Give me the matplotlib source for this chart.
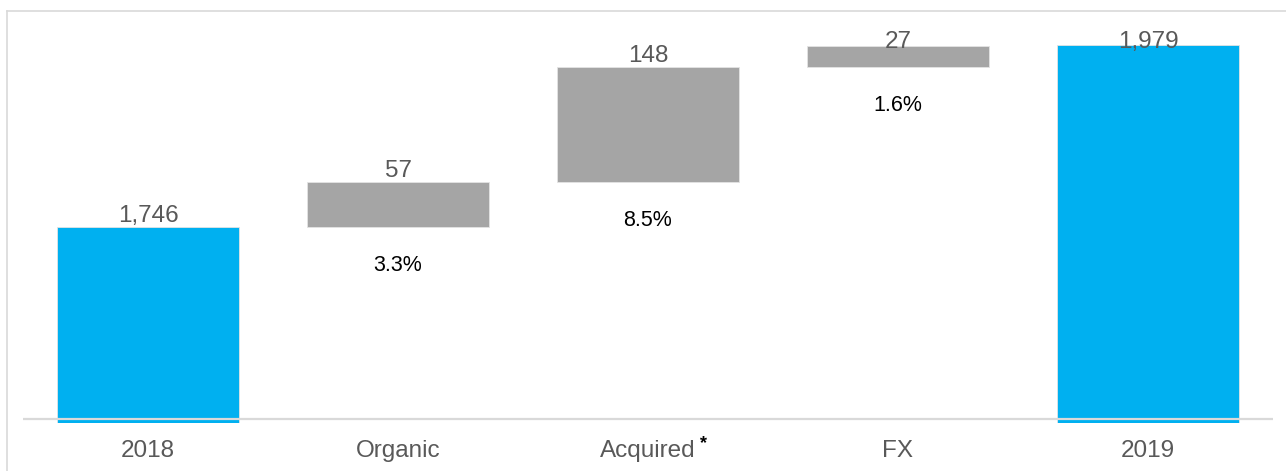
import numpy as np
import matplotlib.pyplot as plt
from matplotlib.lines import Line2D

plt.rcParams['font.family'] = ['Liberation Sans', 'DejaVu Sans']

# waterfall data
categories = ['2018', 'Organic', 'Acquired', 'FX', '2019']
start_value = 1746
deltas = [57, 148, 27]
end_value = 1979
pct_labels = ['3.3%', '8.5%', '1.6%']

blue = '#00B0F0'
grey = '#A5A5A5'
text_grey = '#595959'
line_grey = '#D9D9D9'

y_min, y_max = 1495, 2022.5
base = 1500

fig = plt.figure(figsize=(12.86, 4.71), dpi=100)
ax = fig.add_axes([23/1286, 48/471, 1250/1286, 412/471])

x = np.arange(len(categories))
running = start_value + np.concatenate([[0], np.cumsum(deltas)])
bottoms = [y_min] + list(running[:-1]) + [y_min]
tops = [start_value] + list(running[1:]) + [end_value]
colors = [blue] + [grey] * len(deltas) + [blue]
heights = np.array(tops) - np.array(bottoms)

ax.bar(x, heights, bottom=bottoms, width=0.73, color=colors,
       edgecolor='#E3E3E3', linewidth=0.6, zorder=2)
ax.axhline(base, color=line_grey, lw=1.6, zorder=3)

shown = [start_value] + deltas + [end_value]
for i, (t, v) in enumerate(zip(tops, shown)):
    ax.text(i, min(t + 6.4, 1975), f'{v:,}', ha='center', va='baseline',
            fontsize=17.5, color=text_grey, zorder=4)

for i, lab in enumerate(pct_labels):
    ax.annotate(lab, xy=(i + 1, bottoms[i + 1]), xytext=(0, -27.5),
                textcoords='offset points', ha='center', va='center',
                fontsize=15.5, color='black')

ax.set_xlim(-0.5, len(categories) - 0.5)
ax.set_ylim(y_min, y_max)
ax.set_xticks(x)
ax.set_xticklabels(categories, fontsize=17.5, color=text_grey)
ax.tick_params(axis='x', length=0, pad=12)
ax.set_yticks([])
for s in ax.spines.values():
    s.set_visible(False)

# asterisk after "Acquired"
ax.annotate('*', xy=(2, 0), xycoords=('data', 'axes fraction'),
            xytext=(39.6, -14.5), textcoords='offset points',
            ha='center', va='center', fontsize=13, fontweight='bold',
            color='black')

# outer frame
fig.add_artist(Line2D([7/1286, 7/1286], [0, 1 - 11/471], color=line_grey, lw=1.2))
fig.add_artist(Line2D([7/1286, 1], [1 - 11/471, 1 - 11/471], color=line_grey, lw=1.2))

fig.savefig('out.png', dpi=100)
